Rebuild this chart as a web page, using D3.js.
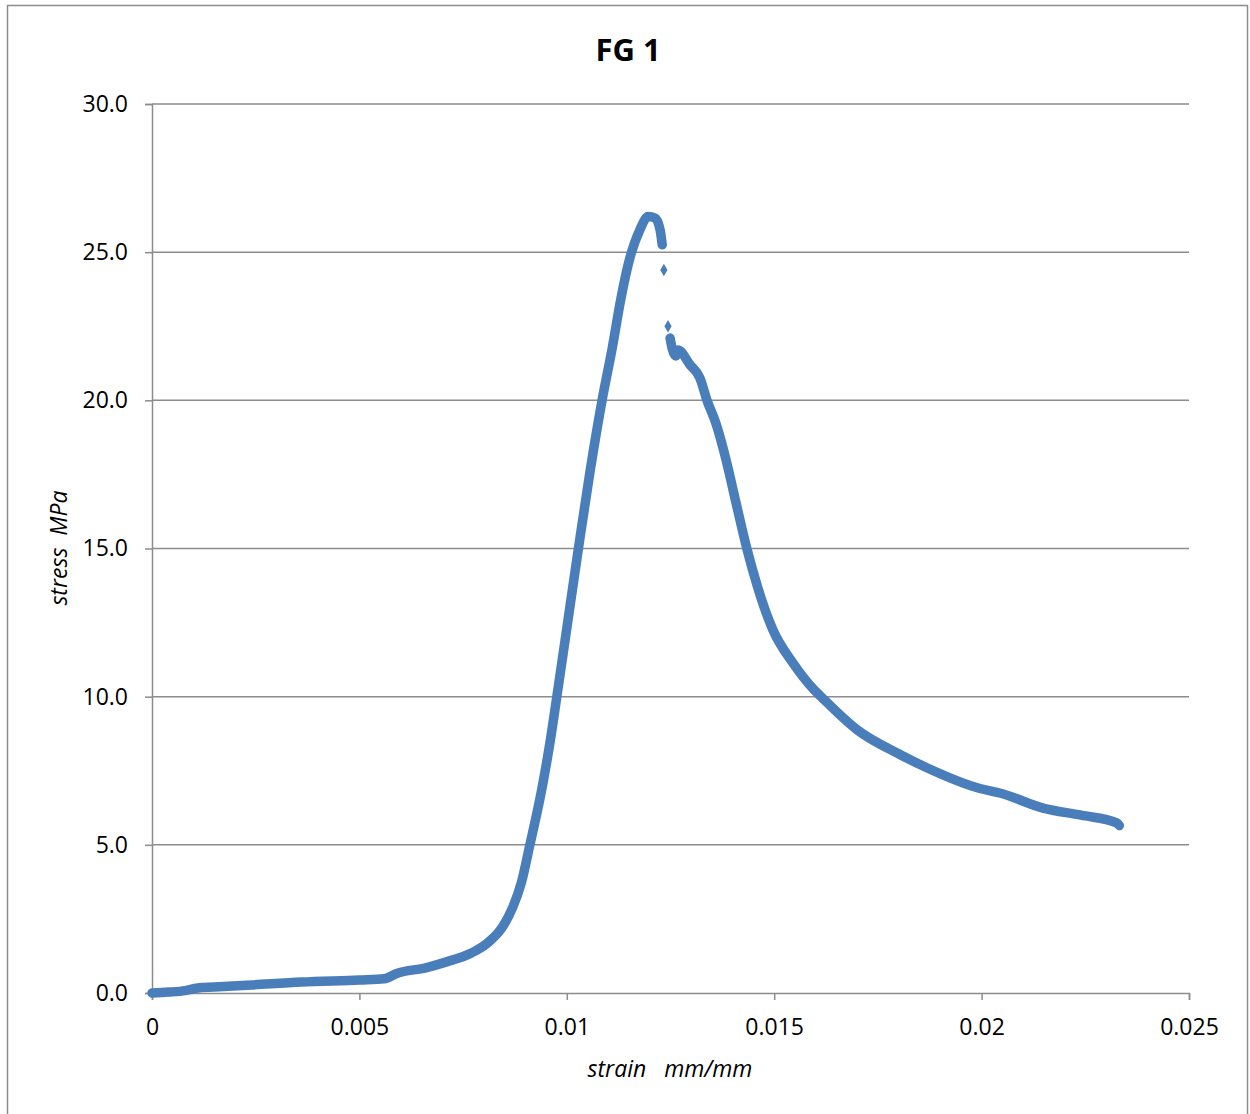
<!DOCTYPE html>
<html>
<head>
<meta charset="utf-8">
<script src="https://cdn.jsdelivr.net/npm/d3@7"></script>
<style>
  body { margin: 0; background: #fff; }
  text { font-family: "Open Sans", sans-serif; fill: #000; }
</style>
</head>
<body>
<script>
"use strict"
const w = 1250;
const h = 1114;
const margin = {top: 104, right: 61, bottom: 121, left: 152};

// rising part of the curve (strain mm/mm, stress MPa)
const riseStrain = [0, 0.0004, 0.0008, 0.0011, 0.0015, 0.0024, 0.0036, 0.005, 0.0056, 0.0059,
	0.0066, 0.0071, 0.0077, 0.0081, 0.00846, 0.0087, 0.0089, 0.00911, 0.0094, 0.0096, 0.00976,
	0.01002, 0.01028, 0.01056, 0.01085, 0.0111, 0.0113, 0.01152, 0.01176, 0.01196, 0.01213,
	0.01225, 0.0123];
const riseStress = [0, 0.03, 0.08, 0.17, 0.2, 0.27, 0.37, 0.44, 0.48, 0.66,
	0.85, 1.05, 1.35, 1.7, 2.25, 2.9, 3.7, 5.0, 6.9, 8.5, 10.0,
	12.5, 15.0, 17.6, 20.0, 21.8, 23.4, 24.8, 25.75, 26.2, 26.15,
	25.75, 25.25];

// isolated points after the peak
const dropStrain = [0.01234, 0.01244];
const dropStress = [24.4, 22.5];

// softening part
const fallStrain = [0.01249, 0.01254, 0.01263, 0.01268, 0.01297, 0.01321, 0.01338, 0.0136,
	0.01382, 0.01407, 0.01434, 0.0146, 0.01497, 0.01545, 0.01595, 0.01613, 0.017, 0.01803,
	0.01868, 0.01996, 0.02044, 0.02148, 0.0224, 0.02326, 0.02332];
const fallStress = [22.1, 21.75, 21.5, 21.7, 21.2, 20.75, 20.0, 19.2,
	18.1, 16.6, 15.0, 13.7, 12.25, 11.14, 10.25, 10.0, 8.88, 8.05,
	7.6, 6.9, 6.75, 6.24, 6.0, 5.74, 5.65];

const xTicks = [0, 0.005, 0.01, 0.015, 0.02, 0.025];
const xTickLabels = ['0', '0.005', '0.01', '0.015', '0.02', '0.025'];
const yTicks = [0, 5, 10, 15, 20, 25, 30];

const color = '#4a7ebb';
const grey = '#8c8c8c';

const svg = d3.select('body')
	.append('svg')
	.attr('width', w)
	.attr('height', h);

// chart frame
svg.append('rect')
	.attr('x', 7.5)
	.attr('y', 5.5)
	.attr('width', 1240)
	.attr('height', 1130)
	.attr('fill', 'none')
	.attr('stroke', grey)
	.attr('stroke-width', 1.5);

const xScale = d3.scaleLinear()
	.domain([0, 0.025])
	.range([margin.left, w - margin.right]);

const yScale = d3.scaleLinear()
	.domain([0, 30])
	.range([h - margin.bottom, margin.top]);

// gridlines
svg.append('g')
	.selectAll('line')
	.data(yTicks.slice(1))
	.enter()
	.append('line')
	.attr('x1', xScale(0))
	.attr('x2', xScale(0.025))
	.attr('y1', d => yScale(d))
	.attr('y2', d => yScale(d))
	.attr('stroke', grey)
	.attr('stroke-width', 1.5);

const yAxis = d3.axisLeft(yScale)
	.tickValues(yTicks)
	.tickFormat(d3.format('.1f'))
	.tickSize(7)
	.tickPadding(17);

const xAxis = d3.axisBottom(xScale)
	.tickValues(xTicks)
	.tickFormat((d, i) => xTickLabels[i])
	.tickSize(7)
	.tickPadding(19);

const gy = svg.append('g')
	.attr('transform', 'translate(' + margin.left + ', 0)')
	.call(yAxis);

const gx = svg.append('g')
	.attr('transform', 'translate(0, ' + (h - margin.bottom) + ')')
	.call(xAxis);

[gx, gy].forEach(g => {
	g.select('.domain').attr('stroke', grey).attr('stroke-width', 1.5);
	g.selectAll('.tick line').attr('stroke', grey).attr('stroke-width', 1.5);
	g.selectAll('.tick text')
		.attr('fill', '#000')
		.style('font-family', '"Open Sans", sans-serif')
		.style('font-size', '23px');
});

// curve
const line = d3.line()
	.x(d => xScale(d[0]))
	.y(d => yScale(d[1]))
	.curve(d3.curveMonotoneX);

const rise = riseStrain.map((s, i) => [s, riseStress[i]]);
const fall = fallStrain.map((s, i) => [s, fallStress[i]]);
const drop = dropStrain.map((s, i) => [s, dropStress[i]]);

[rise, fall].forEach(seg => {
	svg.append('path')
		.datum(seg)
		.attr('d', line)
		.attr('fill', 'none')
		.attr('stroke', color)
		.attr('stroke-width', 9.5)
		.attr('stroke-linejoin', 'round')
		.attr('stroke-linecap', 'round');
});

svg.selectAll('.dot')
	.data(drop)
	.enter()
	.append('path')
	.attr('class', 'dot')
	.attr('transform', d => 'translate(' + xScale(d[0]) + ',' + yScale(d[1]) + ')')
	.attr('d', d3.symbol().type(d3.symbolDiamond).size(45))
	.attr('fill', color);

// titles
svg.append('text')
	.attr('x', 628)
	.attr('y', 61)
	.attr('text-anchor', 'middle')
	.style('font-size', '31px')
	.style('font-weight', 'bold')
	.text('FG 1');

svg.append('text')
	.attr('x', 670)
	.attr('y', 1077)
	.attr('text-anchor', 'middle')
	.style('font-size', '23px')
	.style('font-style', 'italic')
	.attr('xml:space', 'preserve')
	.text('strain   mm/mm');

svg.append('text')
	.attr('transform', 'translate(67, 548) rotate(-90)')
	.attr('text-anchor', 'middle')
	.style('font-size', '23px')
	.style('font-style', 'italic')
	.attr('xml:space', 'preserve')
	.text('stress  MPa');
</script>
</body>
</html>
